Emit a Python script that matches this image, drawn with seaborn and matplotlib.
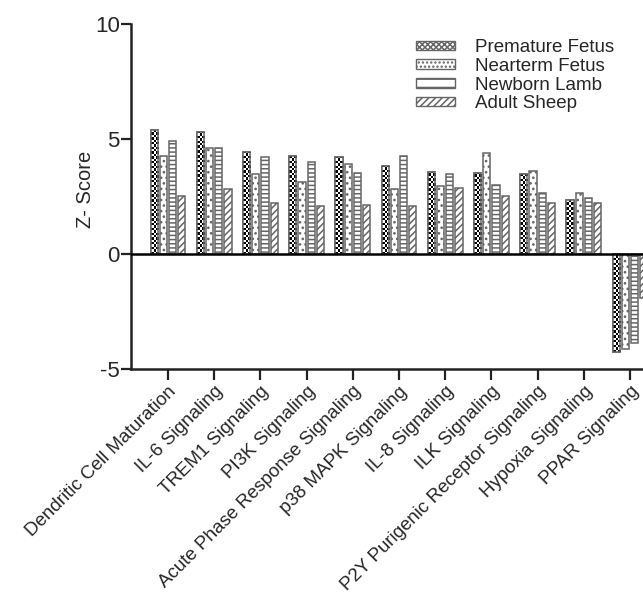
import matplotlib
matplotlib.use("Agg")
import matplotlib.pyplot as plt
import numpy as np
import pandas as pd
import seaborn as sns
from matplotlib.patches import Patch, Rectangle

pathways = [
    "Dendritic Cell Maturation",
    "IL-6 Signaling",
    "TREM1 Signaling",
    "PI3K Signaling",
    "Acute Phase Response Signaling",
    "p38 MAPK Signaling",
    "IL-8 Signaling",
    "ILK Signaling",
    "P2Y Purigenic Receptor Signaling",
    "Hypoxia Signaling",
    "PPAR Signaling",
]
groups = ["Premature Fetus", "Nearterm Fetus", "Newborn Lamb", "Adult Sheep"]

premature = [5.38, 5.32, 4.45, 4.26, 4.23, 3.83, 3.58, 3.54, 3.46, 2.33, -4.28]
nearterm = [4.27, 4.62, 3.46, 3.14, 3.91, 2.81, 2.97, 4.38, 3.59, 2.64, -4.13]
newborn = [4.93, 4.62, 4.23, 4.00, 3.52, 4.26, 3.46, 2.99, 2.64, 2.42, -3.86]
adult = [2.52, 2.83, 2.22, 2.10, 2.13, 2.10, 2.87, 2.51, 2.22, 2.22, -1.90]

hatches = [None, "...", "----", "/////"]
edge = "#666666"

df = pd.DataFrame({
    "pathway": pathways * 4,
    "group": np.repeat(groups, len(pathways)),
    "z": premature + nearterm + newborn + adult,
})

sns.set_style("ticks")
plt.rcParams["font.family"] = ["Liberation Sans", "DejaVu Sans"]
plt.rcParams["axes.unicode_minus"] = False
plt.rcParams["hatch.linewidth"] = 1.1
plt.rcParams["hatch.color"] = "black"

fig = plt.figure(figsize=(6.43, 5.94), dpi=100)
ax = fig.add_axes([131 / 643, 1 - 369 / 594, 1 - 131 / 643, (369 - 24) / 594])

sns.barplot(
    data=df, x="pathway", y="z", hue="group", order=pathways, hue_order=groups,
    palette=["white"] * 4, width=0.8, gap=0.22, edgecolor=edge,
    linewidth=1.1, legend=False, ax=ax,
)

ax.set_ylim(-5, 10)
ax.set_xlim(-0.8, 10.28)

for cont, h in zip(ax.containers, hatches):
    for bar in cont:
        if h:
            bar.set_hatch(h)


def checker(patch, ax, square_px=2.4):
    # fill a bar with a black/white checkerboard, clipped to the bar
    x0, y0 = patch.get_x(), patch.get_y()
    w, h = patch.get_width(), patch.get_height()
    p0 = ax.transData.transform((x0, y0))
    p1 = ax.transData.transform((x0 + w, y0 + h))
    rows = max(1, int(round(abs(p1[1] - p0[1]) / square_px)))
    cols = max(1, int(round(abs(p1[0] - p0[0]) / square_px)))
    grid = (np.add.outer(np.arange(rows), np.arange(cols)) % 2).astype(float)
    ylo, yhi = sorted([y0, y0 + h])
    im = ax.imshow(grid, cmap="gray", extent=(x0, x0 + w, ylo, yhi),
                   aspect="auto", interpolation="nearest", origin="lower",
                   zorder=patch.get_zorder() + 0.1)
    im.set_clip_path(patch)
    ax.add_patch(Rectangle((x0, y0), w, h, fill=False, edgecolor=edge,
                           lw=1.1, zorder=patch.get_zorder() + 0.2))


for bar in ax.containers[0]:
    checker(bar, ax)

ax.set_xlim(-0.8, 10.28)
ax.set_ylim(-5, 10)
ax.axhline(0, color="black", lw=1.8, zorder=5)
ax.set_yticks([-5, 0, 5, 10])
ax.set_xlabel("")
ax.set_ylabel("Z- Score", fontsize=14.5)
ax.yaxis.set_label_coords(-0.07, 0.52)
ax.tick_params(axis="y", labelsize=16, length=7, width=1.6, pad=1, color="#222222")
ax.tick_params(axis="x", labelsize=13.5, length=8, width=1.6, pad=2, color="#222222")
plt.setp(ax.get_xticklabels(), rotation=45, ha="right", rotation_mode="anchor")
for side in ["top", "right"]:
    ax.spines[side].set_visible(False)
for side in ["left", "bottom"]:
    ax.spines[side].set_linewidth(1.8)
    ax.spines[side].set_color("#222222")

legend_hatches = ["xxxxxx", "....", "--", "/////"]
handles = [Patch(facecolor="white", edgecolor=edge, hatch=h, label=g)
           for g, h in zip(groups, legend_hatches)]
fig.legend(handles=handles, loc="upper left", bbox_to_anchor=(399 / 643, 1 - 22 / 594),
           frameon=False, fontsize=13.5, handlelength=2.1, handleheight=0.38,
           handletextpad=1.05, labelspacing=0.1)

fig.savefig("out.png", dpi=100)
